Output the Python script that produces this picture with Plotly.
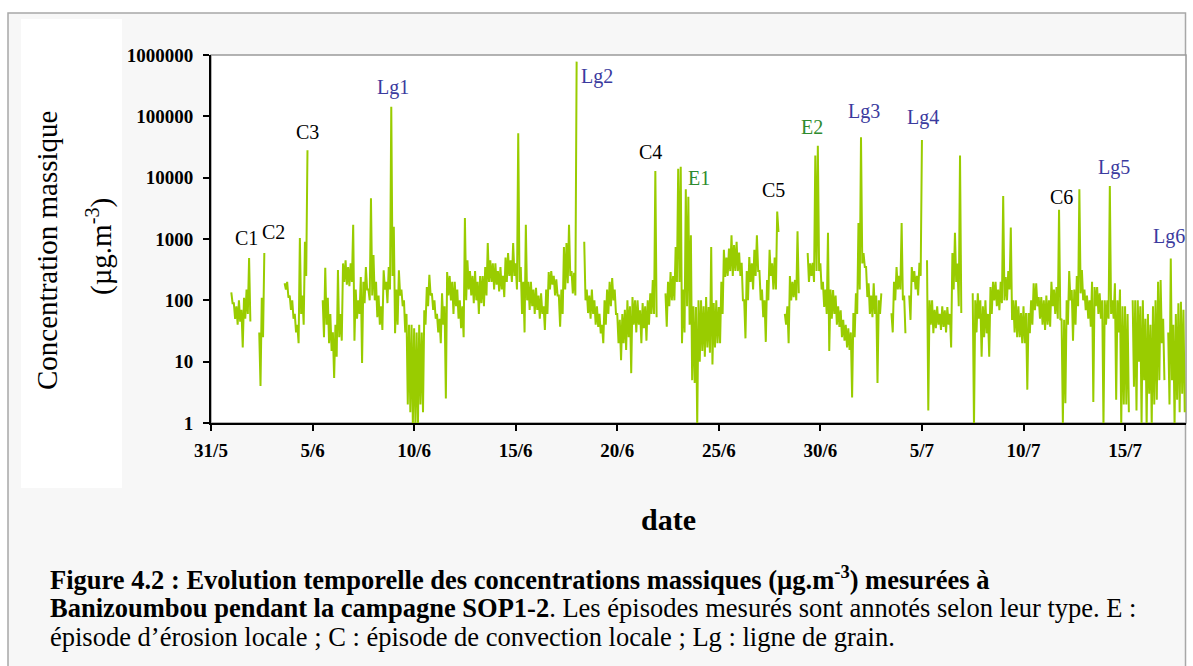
import math
import pandas as pd
import plotly.graph_objects as go

# Mass concentration at Banizoumbou (µg.m-3), read as a high and a low value
# for every 3-hour slot from 1 June 2006 00:00 (8 slots per day). The low
# value of a slot is placed 1.5 h after its high value. None = no measurement.
START = "2006-06-01"
HALF_STEP = "90min"

upper_w1 = [
    135, 90, 80, 100, 70, 110, 150, 490,             # 1/6
    None, None, None, 30, 110, 590, None, None,      # 2/6
    None, None, None, None, None, 190, 200, 120,     # 3/6
    100, 60, 40, 1040, 120, 900, 28000, None,        # 4/6
    None, None, None, None, 100, 340, 110, 60,       # 5/6
    30, 40, 313, 60, 400, 450, 350, 400,             # 6/6
    1700, 150, 100, 240, 200, 350, 150, 4600,        # 7/6
]
lower_w1 = [
    90, 50, 40, 45, 17, 50, 60, 45,
    None, None, None, 4, 25, None, None, None,
    None, None, None, None, None, 150, 110, 70,
    50, 30, 20, 60, 40, 250, None, None,
    None, None, None, None, 25, 40, 20, 15,
    5.4, 12, 25, 22, 200, 180, 170, 200,
    22, 50, 60, 9.5, 90, 150, 100, 120,
]
upper_w2 = [
    550, 200, 120, 80, 310, 200, 350, 143000,        # 8/6
    1580, 150, 310, 150, 100, 60, 40, 40,            # 9/6
    35, 30, 40, 30, 69, 165, 260, 130,               # 10/6
    100, 60, 50, 130, 80, 290, 250, 200,             # 11/6
    200, 150, 100, 80, 2200, 450, 300, 250,          # 12/6
    300, 200, 250, 250, 350, 860, 450, 400,          # 13/6
    400, 300, 350, 250, 500, 590, 450, 860,          # 14/6
]
lower_w2 = [
    100, 53, 40, 33, 150, 90, 150, 250,
    29, 40, 120, 80, 30, 2, 1.5, 0.9,
    0.9, 0.9, 2, 1.5, 40, 80, 120, 70,
    50, 30, 20, 40, 2.5, 120, 100, 60,
    80, 50, 35, 25, 100, 150, 120, 90,
    100, 60, 90, 80, 120, 200, 200, 150,
    180, 140, 150, 113, 200, 250, 200, 250,
]
upper_w3 = [
    400, 53000, 350, 200, 1700, 200, 200, 150,       # 15/6
    160, 120, 130, 80, 150, 290, 300, 250,           # 16/6
    220, 120, 150, 740, 860, 1700, 300, 280,         # 17/6
    780000, None, None, 900, 150, 120, 150, 100,     # 18/6
    80, 60, 40, 100, 150, 200, 230, 150,             # 19/6
    60, 48, 60, 70, 100, 80, 113, 100,               # 20/6
    100, 69, 90, 80, 100, 130, 215, 12800,           # 21/6
]
lower_w3 = [
    150, 200, 60, 30, 100, 70, 80, 60,
    70, 50, 60, 33, 60, 150, 180, 120,
    120, 37, 60, 150, 190, 250, 130, 120,
    None, None, None, 100, 62, 50, 60, 40,
    37, 29, 20, 40, 60, 80, 100, 60,
    20, 10.6, 20, 15.5, 25, 6.5, 40, 30,
    40, 20, 35, 22, 40, 60, 60, 53,
]
upper_w4 = [
    None, None, None, 130, 200, 290, 250, 740,       # 22/6
    14000, 15000, 150, 6500, 4900, 1150, 80, 78,     # 23/6
    100, 100, 80, 113, 78, 740, 90, 100,             # 24/6
    78, 200, 665, 500, 700, 1150, 800, 900,          # 25/6
    600, 410, 100, 300, 510, 400, 665, 1150,         # 26/6
    300, 150, 100, 215, 665, 400, 500, 2800,         # 27/6
    None, None, 60, 80, 250, 200, 215, 1340,         # 28/6
]
lower_w4 = [
    None, None, None, 37, 80, 100, 100, 200,
    200, 20, 30, 80, 40, 5, 4.5, 0.9,
    10, 15, 12, 17, 14, 9, 17, 20,
    20, 60, 240, 250, 300, 250, 300, 300,
    250, 100, 24, 100, 200, 150, 250, 300,
    100, 53, 21, 100, 250, 150, 150, 1300,
    None, None, 40, 20, 100, 113, 100, 130,
]
upper_w5 = [
    None, None, None, 590, 400, 410, 23000, 33000,   # 29/6
    400, 200, 150, 1260, 150, 147, 120, 80,          # 30/6
    69, 48, 40, 35, 30, 62, 130, 1830,               # 1/7
    45500, 590, 350, 190, 120, 190, 120, 100,        # 2/7
    130, None, None, None, 62, 200, 350, 250,         # 3/7
    1830, 120, None, 120, 350, 300, 250, 410,        # 4/7
    41000, None, 450, 100, 100, 70, 80, 60,          # 5/7
]
lower_w5 = [
    None, None, None, 200, 250, 200, 300, 300,
    150, 78, 60, 15, 50, 60, 40, 37,
    25, 22, 17, 15.5, 2.6, 25, 60, 150,
    400, 350, 113, 60, 53, 60, 4.5, 60,
    None, None, None, None, 30, 100, 150, 150,
    100, 29, None, 48, 200, 150, 120, 250,
    None, None, 1.6, 40, 29, 35, 40, 33,
]
upper_w6 = [
    80, 69, 78, 60, 590, 1260, 400, 23000,           # 6/7
    None, None, None, None, 130, 100, 130, 100,      # 7/7
    80, 100, 60, 165, 200, 200, 150, 200,            # 8/7
    5000, 240, 300, 1540, 100, 100, 80, 62,          # 9/7
    80, 62, 62, 100, 190, 190, 113, 113,             # 10/7
    100, 120, 100, 200, 150, 165, 3000, 50,          # 11/7
    48, 100, 300, 147, 150, 250, 6500, 313,          # 12/7
]
lower_w6 = [
    37, 30, 40, 17, 150, 200, 80, 62,
    None, None, None, None, 0.9, 30, 50, 12,
    25, 29, 12, 60, 100, 80, 69, 90,
    100, 100, 150, 48, 30, 25, 25, 20,
    20, 3.5, 29, 40, 69, 80, 50, 40,
    33, 40, 37, 80, 60, 50, 48, 1.0,
    2.1, 40, 100, 22, 40, 80, 130, 100,
]
upper_w7 = [
    150, 120, 100, 200, 165, 165, 130, 100,          # 13/7
    100, 100, 7300, 100, 190, 100, 150, 80,          # 14/7
    80, 60, None, 100, 100, 100, 80, 100,            # 15/7
    50, 60, 40, 80, 100, 200, 215, 50,               # 16/7
    None, 30, 480, 40, 60, 90, 95, 70,               # 17/7
]
lower_w7 = [
    69, 50, 37, 2.2, 80, 60, 50, 0.9,
    40, 50, 60, 50, 2.4, 30, 0.9, 2,
    2, 1.5, None, 3.9, 1.6, 10, 1, 5,
    0.9, 3, 0.9, 2, 2.4, 5, 20, 5,
    None, 2, 5, 0.9, 2.4, 1.5, 3, 1.5,
]

upper = upper_w1 + upper_w2 + upper_w3 + upper_w4 + upper_w5 + upper_w6 + upper_w7
lower = lower_w1 + lower_w2 + lower_w3 + lower_w4 + lower_w5 + lower_w6 + lower_w7
concentration = []
for hi, lo in zip(upper, lower):
    concentration += [hi, lo]
times = pd.date_range(START, periods=len(concentration), freq=HALF_STEP)

# Axis ticks
x_tick_dates = ["2006-05-31", "2006-06-05", "2006-06-10", "2006-06-15", "2006-06-20",
                "2006-06-25", "2006-06-30", "2006-07-05", "2006-07-10", "2006-07-15"]
x_tick_text = ["31/5", "5/6", "10/6", "15/6", "20/6", "25/6", "30/6", "5/7", "10/7", "15/7"]
y_tick_vals = [1, 10, 100, 1000, 10000, 100000, 1000000]
y_tick_text = ["1", "10", "100", "1000", "10000", "100000", "1000000"]

# Episode labels: name, days after 31/5, height (µg.m-3), type
episodes = [
    ("C1", 1.77, 1040, "C"), ("C2", 3.10, 1300, "C"), ("C3", 4.77, 55600, "C"),
    ("Lg1", 8.96, 300000, "Lg"), ("Lg2", 18.99, 438000, "Lg"), ("C4", 21.64, 26200, "C"),
    ("E1", 24.00, 9900, "E"), ("C5", 27.70, 6300, "C"), ("E2", 29.57, 67000, "E"),
    ("Lg3", 32.17, 118000, "Lg"), ("Lg4", 35.07, 94000, "Lg"), ("C6", 41.86, 4840, "C"),
    ("Lg5", 44.47, 14400, "Lg"), ("Lg6", 47.17, 1080, "Lg"),
]
type_colors = {"C": "#000000", "Lg": "#3B3B9E", "E": "#2E8B2E"}

FONT = "Liberation Serif"
W, H = 1193, 666
L, R, T, B = 211, 1186, 55, 423


def px(x):
    return (x - L) / (R - L)


def py(y):
    return (B - y) / (B - T)


fig = go.Figure()
fig.add_trace(go.Scatter(
    x=times, y=concentration, mode="lines",
    line=dict(color="#99CC00", width=2), connectgaps=False,
    hoverinfo="skip", showlegend=False,
))

day0 = pd.Timestamp("2006-05-31")
annotations = []
for name, d, val, kind in episodes:
    annotations.append(dict(
        x=day0 + pd.Timedelta(days=d), y=math.log10(val), xref="x", yref="y",
        text=name, showarrow=False, xanchor="center", yanchor="middle",
        font=dict(family=FONT, size=20, color=type_colors[kind]),
    ))

# Axis titles
annotations += [
    dict(x=px(47), y=py(251), xref="paper", yref="paper", text="Concentration massique",
         textangle=-90, showarrow=False, xanchor="center", yanchor="middle",
         font=dict(family=FONT, size=29, color="#000000")),
    dict(x=px(99), y=py(247), xref="paper", yref="paper", text="(µg.m<sup>-3</sup>)",
         textangle=-90, showarrow=False, xanchor="center", yanchor="middle",
         font=dict(family=FONT, size=29, color="#000000")),
    dict(x=px(668), y=py(519), xref="paper", yref="paper", text="<b>date</b>",
         showarrow=False, xanchor="center", yanchor="middle",
         font=dict(family=FONT, size=30, color="#000000")),
]

# Caption
caption = [
    (578, "<b>Figure 4.2 : Evolution temporelle des concentrations massiques (µg.m<sup>-3</sup>) mesurées à</b>"),
    (608, "<b>Banizoumbou pendant la campagne SOP1-2</b>. Les épisodes mesurés sont annotés selon leur type. E :"),
    (637, "épisode d’érosion locale ; C : épisode de convection locale ; Lg : ligne de grain."),
]
for yy, txt in caption:
    annotations.append(dict(
        x=px(48), y=py(yy), xref="paper", yref="paper", text=txt, showarrow=False,
        xanchor="left", yanchor="middle", align="left",
        font=dict(family=FONT, size=26.5, color="#000000"),
    ))

shapes = [
    dict(type="rect", xref="paper", yref="paper", x0=px(8), x1=px(1185.5), y0=py(13), y1=py(700),
         fillcolor="#F7F7F7", line=dict(color="#A8A8A8", width=1.5), layer="below"),
    dict(type="rect", xref="paper", yref="paper", x0=px(21), x1=px(122), y0=py(19), y1=py(488),
         fillcolor="#FFFFFF", line=dict(width=0), layer="below"),
    dict(type="rect", xref="paper", yref="paper", x0=0, x1=1, y0=0, y1=1,
         fillcolor="#FFFFFF", line=dict(color="#9A9A9A", width=1.5), layer="below"),
]

fig.update_layout(
    width=W, height=H,
    margin=dict(l=L, r=W - R, t=T, b=H - B),
    paper_bgcolor="#FFFFFF", plot_bgcolor="rgba(0,0,0,0)",
    annotations=annotations, shapes=shapes, showlegend=False,
)
fig.update_xaxes(
    type="date", range=["2006-05-31", "2006-07-18"],
    tickvals=x_tick_dates, ticktext=x_tick_text,
    showgrid=False, zeroline=False, showline=True, linecolor="#000000", linewidth=2,
    ticks="outside", ticklen=6, tickwidth=2, tickcolor="#000000", ticklabelstandoff=3,
    tickfont=dict(family=FONT, size=19, color="#000000", weight="bold"),
)
fig.update_yaxes(
    type="log", range=[0, 6],
    tickvals=y_tick_vals, ticktext=y_tick_text,
    showgrid=False, zeroline=False, showline=True, linecolor="#000000", linewidth=2,
    ticks="outside", ticklen=6, tickwidth=2, tickcolor="#000000", ticklabelstandoff=6,
    tickfont=dict(family=FONT, size=19, color="#000000", weight="bold"),
)

fig.write_html("out.html")
